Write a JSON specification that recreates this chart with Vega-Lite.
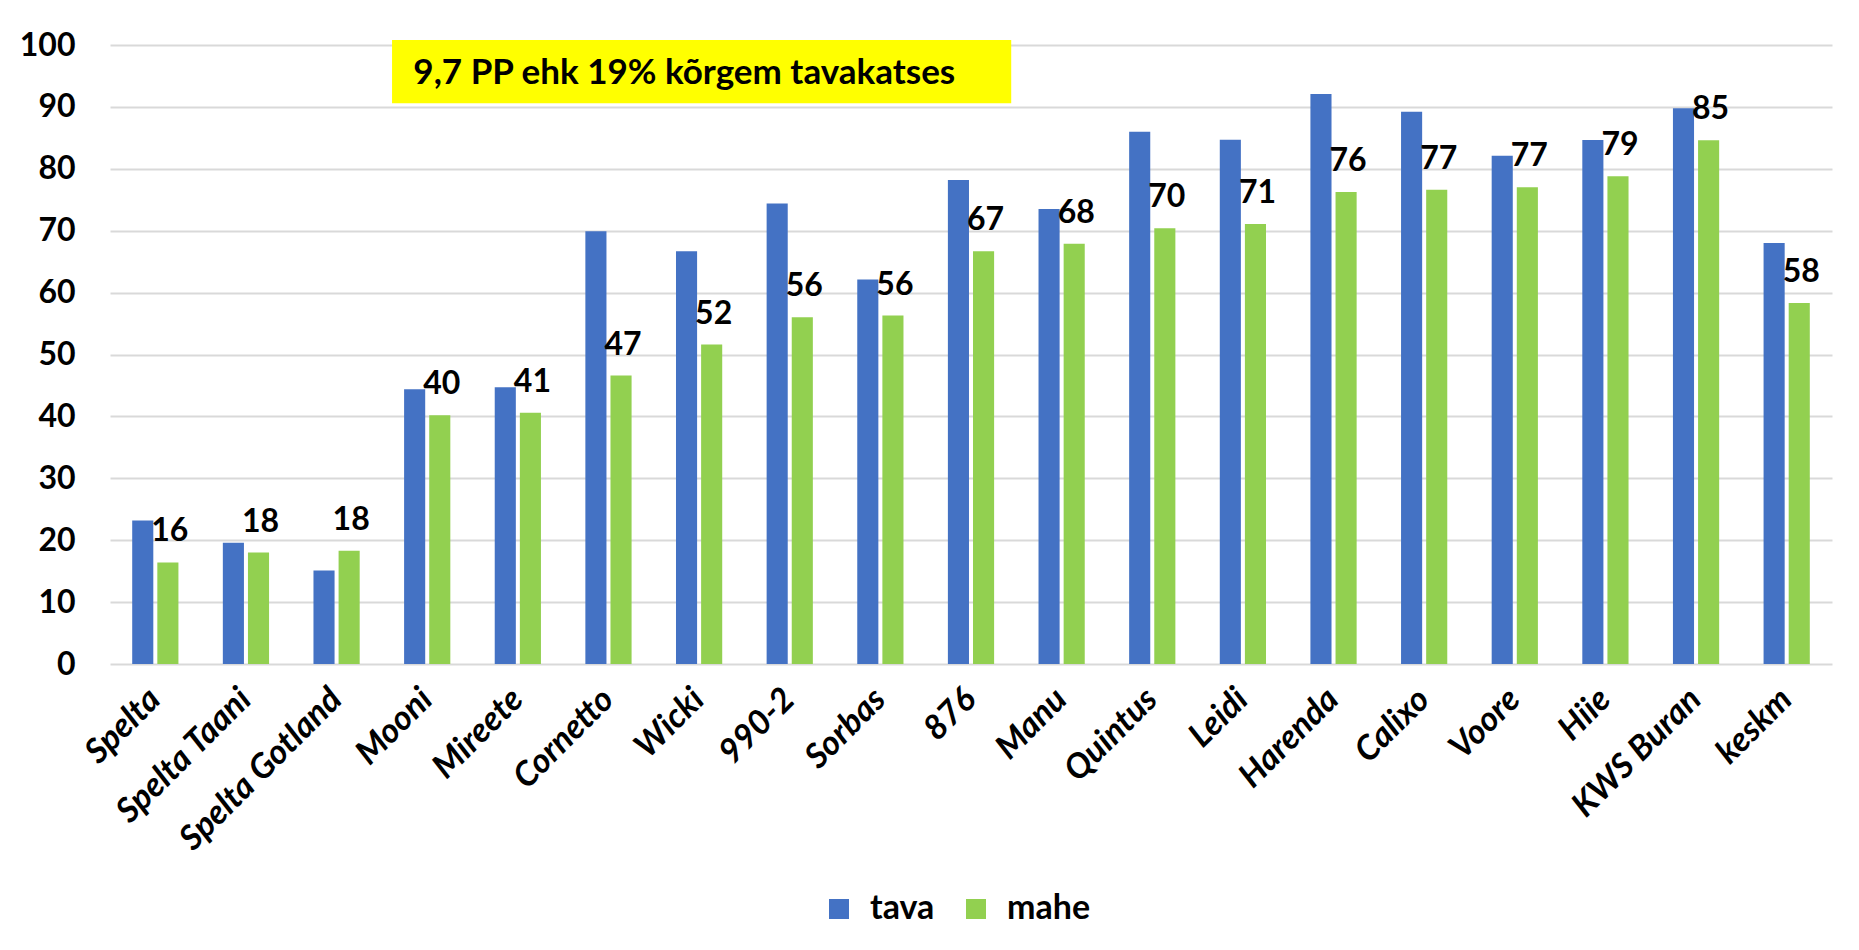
{
  "$schema": "https://vega.github.io/schema/vega-lite/v6.json",
  "autosize": {"type": "none"},
  "width": 1722,
  "height": 619,
  "padding": {"left": 110, "top": 45, "right": 27, "bottom": 286},
  "background": "white",
  "config": {
    "view": {"stroke": null},
    "font": "Lato",
    "axis": {"labelFont": "Lato", "labelFontWeight": "bold", "labelColor": "#000000"},
    "legend": {"labelFont": "Lato", "labelFontWeight": "bold", "labelColor": "#000000"}
  },
  "datasets": {
    "bars": [
      {"name": "Spelta", "series": "tava", "value": 23.2},
      {"name": "Spelta", "series": "mahe", "value": 16.4},
      {"name": "Spelta Taani", "series": "tava", "value": 19.6},
      {"name": "Spelta Taani", "series": "mahe", "value": 18.0},
      {"name": "Spelta Gotland", "series": "tava", "value": 15.1},
      {"name": "Spelta Gotland", "series": "mahe", "value": 18.3},
      {"name": "Mooni", "series": "tava", "value": 44.4},
      {"name": "Mooni", "series": "mahe", "value": 40.2},
      {"name": "Mireete", "series": "tava", "value": 44.7},
      {"name": "Mireete", "series": "mahe", "value": 40.6},
      {"name": "Cornetto", "series": "tava", "value": 69.9},
      {"name": "Cornetto", "series": "mahe", "value": 46.6},
      {"name": "Wicki", "series": "tava", "value": 66.7},
      {"name": "Wicki", "series": "mahe", "value": 51.6},
      {"name": "990-2", "series": "tava", "value": 74.4},
      {"name": "990-2", "series": "mahe", "value": 56.0},
      {"name": "Sorbas", "series": "tava", "value": 62.1},
      {"name": "Sorbas", "series": "mahe", "value": 56.3},
      {"name": "876", "series": "tava", "value": 78.2},
      {"name": "876", "series": "mahe", "value": 66.7},
      {"name": "Manu", "series": "tava", "value": 73.5},
      {"name": "Manu", "series": "mahe", "value": 67.9},
      {"name": "Quintus", "series": "tava", "value": 86.0},
      {"name": "Quintus", "series": "mahe", "value": 70.4},
      {"name": "Leidi", "series": "tava", "value": 84.7},
      {"name": "Leidi", "series": "mahe", "value": 71.1},
      {"name": "Harenda", "series": "tava", "value": 92.1},
      {"name": "Harenda", "series": "mahe", "value": 76.25},
      {"name": "Calixo", "series": "tava", "value": 89.2},
      {"name": "Calixo", "series": "mahe", "value": 76.6},
      {"name": "Voore", "series": "tava", "value": 82.1},
      {"name": "Voore", "series": "mahe", "value": 77.0},
      {"name": "Hiie", "series": "tava", "value": 84.65},
      {"name": "Hiie", "series": "mahe", "value": 78.8},
      {"name": "KWS Buran", "series": "tava", "value": 89.8},
      {"name": "KWS Buran", "series": "mahe", "value": 84.6},
      {"name": "keskm", "series": "tava", "value": 68.0},
      {"name": "keskm", "series": "mahe", "value": 58.3}
    ],
    "note": [
      {"text": "9,7 PP ehk 19% kõrgem  tavakatses"}
    ]
  },
  "layer": [
    {
      "data": {"name": "bars"},
      "mark": {"type": "bar"},
      "encoding": {
        "x": {
          "field": "name", "type": "nominal", "sort": null,
          "scale": {"paddingInner": 0.49, "paddingOuter": 0.245},
          "axis": {
            "title": null, "labelAngle": -45, "labelFontSize": 34, "labelFontStyle": "italic",
            "labelAlign": "right", "labelBaseline": "middle", "labelPadding": 30,
            "domain": false, "ticks": false, "grid": false, "labelLimit": 400
          }
        },
        "xOffset": {"field": "series", "type": "nominal", "scale": {"domain": ["tava", "mahe"], "paddingInner": 0.16}},
        "y": {
          "field": "value", "type": "quantitative",
          "scale": {"domain": [0, 100], "nice": false},
          "axis": {
            "title": null, "values": [0, 10, 20, 30, 40, 50, 60, 70, 80, 90, 100],
            "labelFontSize": 32, "labelPadding": 35, "domain": false, "ticks": false,
            "gridColor": "#d9d9d9", "gridWidth": 2
          }
        },
        "color": {
          "field": "series", "type": "nominal",
          "scale": {"domain": ["tava", "mahe"], "range": ["#4472C4", "#92D050"]},
          "legend": {
            "title": null, "orient": "none", "direction": "horizontal",
            "legendX": 712, "legendY": 847, "symbolType": "square", "symbolSize": 400,
            "symbolStrokeWidth": 0, "labelFontSize": 34, "columnPadding": 24, "labelOffset": 14
          }
        }
      }
    },
    {
      "data": {"name": "bars"},
      "transform": [{"filter": "datum.series === 'mahe'"}],
      "mark": {"type": "text", "fontSize": 32, "fontWeight": "bold", "font": "Lato", "color": "#000000", "dy": -31, "dx": 2, "baseline": "middle", "align": "center"},
      "encoding": {
        "x": {"field": "name", "type": "nominal", "sort": null},
        "xOffset": {"field": "series", "type": "nominal", "scale": {"domain": ["tava", "mahe"], "paddingInner": 0.16}},
        "y": {"field": "value", "type": "quantitative"},
        "text": {"field": "value", "type": "quantitative", "format": ".0f"}
      }
    },
    {
      "data": {"name": "note"},
      "mark": {"type": "rect", "color": "#FFFF00"},
      "encoding": {
        "x": {"datum": "Spelta Gotland", "type": "nominal", "bandPosition": 1.7},
        "x2": {"datum": "876", "bandPosition": 1.37},
        "y": {"datum": 100.8, "type": "quantitative"},
        "y2": {"datum": 90.6}
      }
    },
    {
      "data": {"name": "note"},
      "mark": {"type": "text", "fontSize": 35, "fontWeight": "bold", "font": "Lato", "color": "#000000", "align": "left", "baseline": "middle"},
      "encoding": {
        "x": {"datum": "Mooni", "type": "nominal", "bandPosition": 0.2},
        "y": {"datum": 95.5, "type": "quantitative"},
        "text": {"field": "text"}
      }
    }
  ]
}
